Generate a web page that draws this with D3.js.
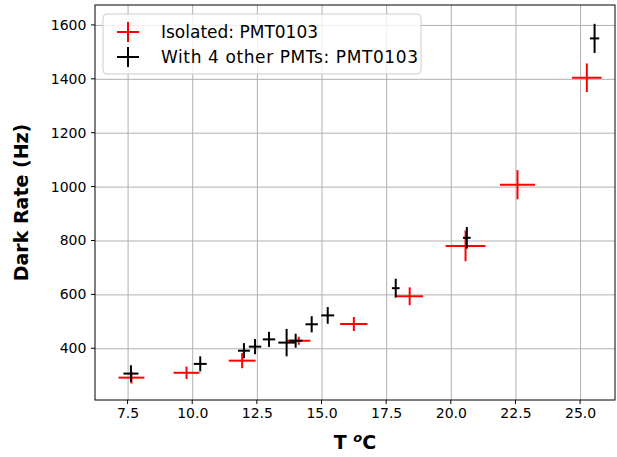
<!DOCTYPE html>
<html><head><meta charset="utf-8">
<script src="https://cdn.jsdelivr.net/npm/d3@7"></script>
<style>body{margin:0;background:#fff}text{font-family:"DejaVu Sans",sans-serif}</style>
</head><body><svg id="c" width="617" height="457"></svg>
<script>
// isolated PMT
var isoT    = [7.65, 9.78, 11.93, 14.12, 16.25, 18.41, 20.57, 22.58, 25.26];
var isoTerr = [0.5, 0.5, 0.52, 0.45, 0.53, 0.52, 0.77, 0.68, 0.57];
var isoR    = [291, 309, 354, 428, 490, 593, 780, 1007, 1404];
var isoRerr = [22, 23, 28, 15, 26, 33, 57, 54, 53];
// with 4 other PMTs
var grpT    = [7.63, 10.31, 12.0, 12.43, 12.97, 13.65, 14.0, 14.62, 15.24, 17.87, 20.62, 25.56];
var grpTerr = [0.29, 0.25, 0.23, 0.24, 0.24, 0.32, 0.26, 0.24, 0.25, 0.15, 0.15, 0.18];
var grpR    = [306, 342, 391, 406, 433, 421, 428, 489, 522, 623, 810, 1550];
var grpRerr = [31, 28, 28, 28, 28, 51, 26, 30, 31, 35, 40, 54];
var xTicks = [7.5, 10, 12.5, 15, 17.5, 20, 22.5, 25];
var yTicks = [400, 600, 800, 1000, 1200, 1400, 1600];

var L = 95, R = 615, T = 5, B = 400;
var svg = d3.select('#c');
var x = d3.scaleLinear().domain([6.24, 26.35]).range([L, R]);
var y = d3.scaleLinear().domain([208, 1674]).range([B, T]);

svg.append('g').attr('transform', `translate(0,${B})`)
    .call(d3.axisBottom(x).tickValues(xTicks).tickFormat(d3.format('.1f')).tickSize(-(B-T)).tickSizeOuter(0))
    .call(g => g.selectAll('.tick line').attr('stroke', '#b0b0b0').attr('stroke-width', 1))
    .call(g => g.selectAll('.tick text').attr('font-size', 14).attr('dy', '1.1em'));
svg.append('g').attr('transform', `translate(${L},0)`)
    .call(d3.axisLeft(y).tickValues(yTicks).tickFormat(d3.format('d')).tickSize(-(R-L)).tickSizeOuter(0))
    .call(g => g.selectAll('.tick line').attr('stroke', '#b0b0b0').attr('stroke-width', 1))
    .call(g => g.selectAll('.tick text').attr('font-size', 14).attr('dx', '-0.4em'));
svg.selectAll('.domain').remove();
// short outer ticks
xTicks.forEach(v => svg.append('line').attr('x1', x(v)).attr('x2', x(v)).attr('y1', B).attr('y2', B+4).attr('stroke', '#000'));
yTicks.forEach(v => svg.append('line').attr('x1', L-4).attr('x2', L).attr('y1', y(v)).attr('y2', y(v)).attr('stroke', '#000'));
svg.append('rect').attr('x', L).attr('y', T).attr('width', R-L).attr('height', B-T)
    .attr('fill', 'none').attr('stroke', '#000').attr('stroke-width', 1);

function errs(T_, Te, Rv, Re, color) {
    var g = svg.append('g').attr('stroke', color).attr('stroke-width', 2);
    T_.forEach((t, i) => {
        g.append('line').attr('x1', x(t-Te[i])).attr('x2', x(t+Te[i])).attr('y1', y(Rv[i])).attr('y2', y(Rv[i]));
        g.append('line').attr('x1', x(t)).attr('x2', x(t)).attr('y1', y(Rv[i]-Re[i])).attr('y2', y(Rv[i]+Re[i]));
    });
}
errs(isoT, isoTerr, isoR, isoRerr, 'red');
errs(grpT, grpTerr, grpR, grpRerr, 'black');

svg.append('text').attr('x', (L+R)/2).attr('y', 449).attr('text-anchor', 'middle')
    .attr('font-size', 19).attr('font-weight', 'bold')
    .html('T <tspan font-style="italic" font-size="13" dy="-7">o</tspan><tspan dy="7">C</tspan>');
svg.append('text').attr('transform', `translate(28,${(T+B)/2}) rotate(-90)`).attr('text-anchor', 'middle')
    .attr('font-size', 19).attr('font-weight', 'bold').text('Dark Rate (Hz)');

var lg = svg.append('g');
lg.append('rect').attr('x', 103).attr('y', 14).attr('width', 318).attr('height', 60).attr('rx', 4)
    .attr('fill', 'white').attr('fill-opacity', 0.8).attr('stroke', '#ccc');
[['Isolated: PMT0103', 'red'], ['With 4 other PMTs: PMT0103', 'black']].forEach((d, i) => {
    var cy = 32 + i*25;
    lg.append('line').attr('x1', 117).attr('x2', 139).attr('y1', cy).attr('y2', cy).attr('stroke', d[1]).attr('stroke-width', 2);
    lg.append('line').attr('x1', 128).attr('x2', 128).attr('y1', cy-10).attr('y2', cy+10).attr('stroke', d[1]).attr('stroke-width', 2);
    lg.append('text').attr('x', 161).attr('y', cy+6).attr('font-size', 17).attr('textLength', i ? 257 : null).text(d[0]);
});
</script></body></html>
